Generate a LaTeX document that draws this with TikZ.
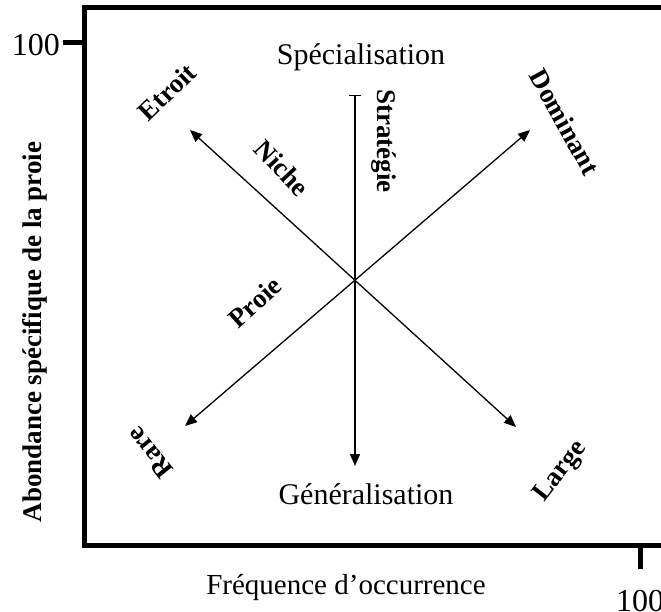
\documentclass[tikz,border=0pt]{standalone}
\usepackage{fontspec}
\setmainfont{Liberation Serif}
\usetikzlibrary{arrows.meta}

\begin{document}
\begin{tikzpicture}[x=1pt,y=-1pt]
\tikzstyle{plain} = [font=\fontsize{30}{32}\selectfont, inner sep=0];
\tikzstyle{pole} = [font=\fontsize{27}{29}\selectfont\bfseries, inner sep=0];
\tikzstyle{frame} = [line width=5pt, line join=miter];
\tikzstyle{biarrow} = [line width=1.3pt, {Triangle[length=12pt,width=10pt]}-{Triangle[length=12pt,width=10pt]}];
\useasboundingbox (0,0) rectangle (661,612);
% axes
\coordinate (tr) at (661,8);
\coordinate (tl) at (84,8);
\coordinate (bl) at (84,545);
\coordinate (br) at (661,545);
\coordinate (ytick) at (63,43);
\coordinate (xtick) at (640,569);
\draw [frame] (tr) -- (tl) -- (bl) -- (br);
\draw [frame] (ytick) -- (ytick -| bl);
\draw [frame] (xtick) -- (xtick |- br);
\node [plain, font=\fontsize{32}{34}\selectfont, anchor=east] (ymax) at (60,45) {100};
\node [plain, font=\fontsize{32}{34}\selectfont] (xmax) at (640,601) {100};
\node [plain, font=\fontsize{27}{29}\selectfont\bfseries, rotate=90] (ylab) at (35,332) {Abondance spécifique de la proie};
\node [plain, font=\fontsize{29}{31}\selectfont] (xlab) at (346,588) {Fréquence d’occurrence};
% arrows
\coordinate (etroitTip) at (190,130);
\coordinate (largeTip) at (516,427);
\coordinate (dominantTip) at (530,130);
\coordinate (rareTip) at (185,426);
\coordinate (top) at (355,95);
\coordinate (bottomTip) at (355,466);
\draw [biarrow] (etroitTip) -- (largeTip);
\draw [biarrow] (dominantTip) -- (rareTip);
\draw [line width=1.3pt, {Bar[width=12pt]}-{Triangle[length=12pt,width=10pt]}] (top) -- (bottomTip);
% labels
\node [plain] (spec) at (361,57) {Spécialisation};
\node [plain] (gen) at (366,494) {Généralisation};
\node [pole, rotate=-90] (strat) at (384,141) {Stratégie};
\node [pole, rotate=-47] (niche) at (282,168) {Niche};
\node [pole, rotate=44] (etroit) at (167,92) {Etroit};
\node [pole, rotate=-61] (dominant) at (565,122) {Dominant};
\node [pole, rotate=42] (proie) at (255,302) {Proie};
\node [pole, rotate=129] (rare) at (150,453) {Rare};
\node [pole, rotate=52] (large) at (561,472) {Large};
\end{tikzpicture}
\end{document}
